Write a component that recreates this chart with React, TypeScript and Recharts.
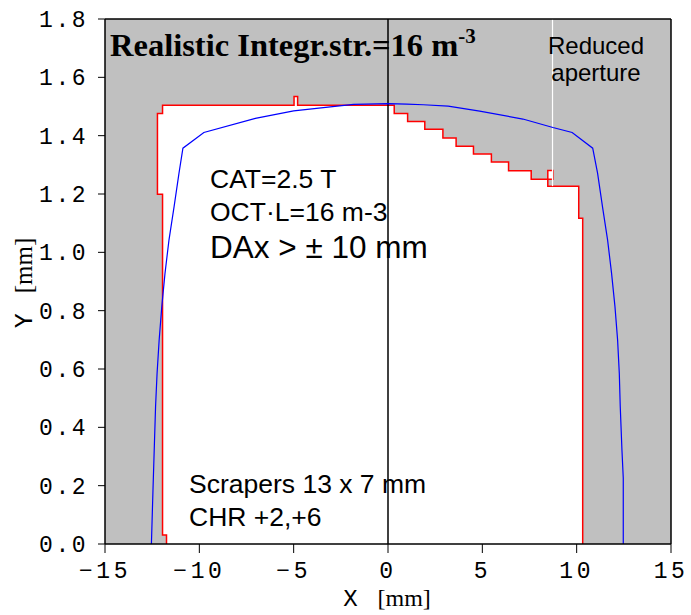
import React from "react";
import {
  ComposedChart,
  Area,
  Line,
  XAxis,
  YAxis,
  CartesianGrid,
  ReferenceLine,
} from "recharts";

// Red scraper aperture boundary (polygon path, x in mm, y in mm)
const apertureX = [
  -11.74, -11.74, -11.95, -11.95, -12.22, -12.22, -11.95, -11.95, -4.98, -4.98,
  -4.79, -4.79, 0.33, 0.33, 1.04, 1.04, 1.95, 1.95, 2.91, 2.91, 3.61, 3.61, 4.53,
  4.53, 5.48, 5.48, 6.39, 6.39, 7.59, 7.59, 8.47, 8.47, 8.74, 8.74, 8.47, 8.47,
  10.11, 10.11, 10.32, 10.32,
];
const apertureY = [
  0, 0.031, 0.031, 1.199, 1.199, 1.476, 1.476, 1.504, 1.504, 1.534, 1.534, 1.504,
  1.504, 1.476, 1.476, 1.449, 1.449, 1.422, 1.422, 1.392, 1.392, 1.364, 1.364,
  1.337, 1.337, 1.31, 1.31, 1.28, 1.28, 1.251, 1.251, 1.281, 1.281, 1.251, 1.251,
  1.227, 1.227, 1.117, 1.117, 0,
];

// Blue dynamic aperture curve
const daX = [
  -12.54, -12.45, -12.32, -12.24, -12.13, -11.99, -11.82, -11.61, -11.34, -11.08,
  -10.87, -9.76, -7.03, -5.0, -3.06, -1.83, 0, 0.99, 1.87, 3.19, 4.86, 7.15, 8.74,
  9.76, 10.85, 11.11, 11.37, 11.64, 11.85, 12.03, 12.17, 12.26, 12.31, 12.4, 12.47,
  12.47,
];
const daY = [
  0, 0.2, 0.471, 0.585, 0.699, 0.814, 0.928, 1.042, 1.156, 1.271, 1.357, 1.411,
  1.459, 1.485, 1.499, 1.507, 1.51, 1.508, 1.506, 1.501, 1.484, 1.457, 1.428,
  1.411, 1.357, 1.271, 1.156, 1.042, 0.928, 0.814, 0.699, 0.585, 0.471, 0.322,
  0.226, 0,
];

const xTicks = [-15, -10, -5, 0, 5, 10, 15];
const yTicks = [0, 0.2, 0.4, 0.6, 0.8, 1.0, 1.2, 1.4, 1.6, 1.8];

const reducedApertureX = 8.72;
const reducedApertureYBottom = 1.227;

const apertureData = apertureX.map((x, i) => ({ x, y: apertureY[i] }));
const daData = daX.map((x, i) => ({ x, y: daY[i] }));

const W = 691;
const H = 615;

const yTickStyle = {
  fontFamily: "Liberation Mono",
  fontSize: 23,
  fill: "#000",
  letterSpacing: 2.5,
};
const xTickStyle = {
  fontFamily: "Liberation Mono",
  fontSize: 23,
  fill: "#000",
  letterSpacing: 3.5,
};

const fmtX = (v: number) => (v < 0 ? "\u2212" + Math.abs(v) : String(v));
const fmtY = (v: number) => v.toFixed(1);

export default function App() {
  return (
    <div style={{ position: "absolute", left: 0, top: 0, width: W, height: H, background: "#fff" }}>
      <ComposedChart
        width={W}
        height={H}
        data={apertureData}
        margin={{ top: 19, right: 20, bottom: 0, left: 0 }}
      >
        <CartesianGrid horizontal={false} vertical={false} fill="#c0c0c0" fillOpacity={1} />
        <XAxis
          type="number"
          dataKey="x"
          domain={[-15, 15]}
          ticks={xTicks}
          tickFormatter={fmtX}
          height={71}
          tickSize={9}
          tickMargin={9}
          tick={xTickStyle}
          stroke="#000"
          axisLine={{ stroke: "#000", strokeWidth: 1.5 }}
          tickLine={{ stroke: "#000", strokeWidth: 1 }}
          allowDataOverflow
        />
        <YAxis
          type="number"
          dataKey="y"
          domain={[0, 1.8]}
          ticks={yTicks}
          tickFormatter={fmtY}
          width={105}
          tickSize={7}
          tickMargin={10}
          tick={yTickStyle}
          stroke="#000"
          axisLine={{ stroke: "#000", strokeWidth: 1.5 }}
          tickLine={{ stroke: "#000", strokeWidth: 1 }}
          allowDataOverflow
        />
        <Area
          type="linear"
          dataKey="y"
          baseValue={0}
          fill="#ffffff"
          fillOpacity={1}
          stroke="#ff0000"
          strokeWidth={1.5}
          dot={false}
          activeDot={false}
          isAnimationActive={false}
        />
        <ReferenceLine
          segment={[
            { x: reducedApertureX, y: reducedApertureYBottom },
            { x: reducedApertureX, y: 1.8 },
          ]}
          stroke="#ffffff"
          strokeWidth={1.2}
        />
        <ReferenceLine x={0} stroke="#000" strokeWidth={1.5} />
        <ReferenceLine y={1.8} stroke="#000" strokeWidth={1.5} />
        <ReferenceLine x={15} stroke="#000" strokeWidth={1.5} />
        <Line
          data={daData}
          type="linear"
          dataKey="y"
          stroke="#0000ff"
          strokeWidth={1.2}
          dot={false}
          activeDot={false}
          isAnimationActive={false}
        />
      </ComposedChart>
      <svg
        width={W}
        height={H}
        style={{ position: "absolute", left: 0, top: 0, pointerEvents: "none" }}
      >
        <text x={110} y={56} fontFamily="Liberation Serif" fontWeight="bold" fontSize={32.5} fill="#000">
          Realistic Integr.str.=16 m
          <tspan dy={-13} fontSize={21}>-3</tspan>
        </text>
        <text x={596} y={54} textAnchor="middle" fontFamily="Liberation Sans" fontSize={24} fill="#000">
          Reduced
        </text>
        <text x={596} y={81} textAnchor="middle" fontFamily="Liberation Sans" fontSize={24} fill="#000">
          aperture
        </text>
        <text x={210} y={188} fontFamily="Liberation Sans" fontSize={26.5} fill="#000">
          CAT=2.5 T
        </text>
        <text x={210} y={221} fontFamily="Liberation Sans" fontSize={26.5} fill="#000">
          OCT·L=16 m-3
        </text>
        <text x={210} y={258} fontFamily="Liberation Sans" fontSize={31.5} fill="#000">
          DAx &gt; ± 10 mm
        </text>
        <text x={189} y={493} fontFamily="Liberation Sans" fontSize={26.5} fill="#000">
          Scrapers 13 x 7 mm
        </text>
        <text x={189} y={526} fontFamily="Liberation Sans" fontSize={26.5} fill="#000">
          CHR +2,+6
        </text>
        <text x={387} y={606} textAnchor="middle" fill="#000">
          <tspan fontFamily="Liberation Mono" fontSize={24}>X</tspan>
          <tspan fontFamily="Liberation Serif" fontSize={24} dx={20}>[mm]</tspan>
        </text>
        <text
          transform="translate(32, 283) rotate(-90)"
          textAnchor="middle"
          fill="#000"
        >
          <tspan fontFamily="Liberation Mono" fontSize={25}>Y</tspan>
          <tspan fontFamily="Liberation Serif" fontSize={25} dx={20}>[mm]</tspan>
        </text>
      </svg>
    </div>
  );
}
